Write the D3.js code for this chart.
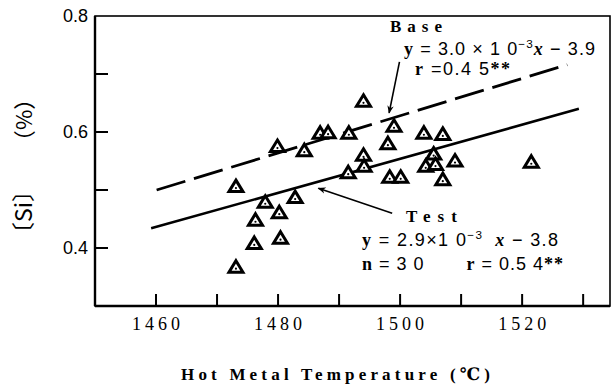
<!DOCTYPE html>
<html>
<head>
<meta charset="utf-8">
<script src="https://cdn.jsdelivr.net/npm/d3@7"></script>
<style>
  body { margin: 0; background: #fff; }
  svg { display: block; }
  text { white-space: pre; }
  .serif { font-family: "Liberation Serif", "DejaVu Serif", serif; }
  .sans { font-family: "Liberation Sans", Arial, sans-serif; }
  .cjk { font-family: "Noto Sans CJK JP", "Noto Sans CJK SC", sans-serif; }
</style>
</head>
<body>
<div id="chart"></div>
<script>
// measured points: hot metal temperature (C) vs [Si] (%)
const temps = [1473.1, 1473.1, 1477.9, 1480.2, 1476.3, 1482.8, 1476.1, 1480.4,
               1479.9, 1484.3, 1486.9, 1488.2, 1491.6, 1491.5, 1494.0, 1499.0,
               1503.9, 1507.0, 1498.0, 1494.0, 1494.1, 1498.3, 1500.1, 1505.5,
               1504.2, 1505.8, 1509.0, 1507.0, 1521.5];
const silicon = [0.366, 0.505, 0.478, 0.460, 0.447, 0.486, 0.407, 0.416,
                 0.574, 0.567, 0.597, 0.598, 0.597, 0.529, 0.652, 0.609,
                 0.597, 0.595, 0.579, 0.559, 0.540, 0.521, 0.521, 0.561,
                 0.540, 0.543, 0.549, 0.517, 0.547];

// regression lines as drawn (end points)
const baseLine = [[1460.1, 0.500], [1527.4, 0.716]];
const testLine = [[1459.2, 0.434], [1529.3, 0.640]];

// arrows pointing at the lines (from, to)
const baseArrow = [[1499.9, 0.721], [1498.2, 0.633]];
const testArrow = [[1498.7, 0.460], [1486.6, 0.503]];

const xTicks = [1460, 1470, 1480, 1490, 1500, 1510, 1520, 1530];
const xLabels = [1460, 1480, 1500, 1520];
const yTicks = [0.4, 0.5, 0.6, 0.7];
const yLabels = [0.4, 0.6, 0.8];

const W = 613, H = 385;
const svg = d3.select("#chart").append("svg")
    .attr("width", W).attr("height", H);

const x = d3.scaleLinear().domain([1450, 1534.4]).range([95, 610]);
const y = d3.scaleLinear().domain([0.3, 0.8]).range([306, 16]);

svg.append("defs").append("marker")
    .attr("id", "ah")
    .attr("viewBox", "0 0 10 10")
    .attr("refX", 9).attr("refY", 5)
    .attr("markerWidth", 8).attr("markerHeight", 8)
    .attr("markerUnits", "userSpaceOnUse")
    .attr("orient", "auto")
  .append("path")
    .attr("d", "M0,1 L10,5 L0,9 L3,5 Z")
    .attr("fill", "#000");

// frame
svg.append("rect")
    .attr("x", x.range()[0]).attr("y", y.range()[1])
    .attr("width", x.range()[1] - x.range()[0])
    .attr("height", y.range()[0] - y.range()[1])
    .attr("fill", "none").attr("stroke", "#000").attr("stroke-width", 1.6);
// heavier left & bottom
svg.append("line")
    .attr("x1", x.range()[0]).attr("x2", x.range()[0])
    .attr("y1", y.range()[1]).attr("y2", y.range()[0])
    .attr("stroke", "#000").attr("stroke-width", 2.4);
svg.append("line")
    .attr("x1", x.range()[0]).attr("x2", x.range()[1])
    .attr("y1", y.range()[0]).attr("y2", y.range()[0])
    .attr("stroke", "#000").attr("stroke-width", 2.4);

// inward ticks
svg.selectAll("line.xt").data(xTicks).enter().append("line")
    .attr("class", "xt")
    .attr("x1", d => x(d)).attr("x2", d => x(d))
    .attr("y1", y.range()[0]).attr("y2", y.range()[0] - 12)
    .attr("stroke", "#000").attr("stroke-width", 2);
svg.selectAll("line.yt").data(yTicks).enter().append("line")
    .attr("class", "yt")
    .attr("x1", x.range()[0]).attr("x2", x.range()[0] + 13)
    .attr("y1", d => y(d)).attr("y2", d => y(d))
    .attr("stroke", "#000").attr("stroke-width", 2);

svg.selectAll("text.xl").data(xLabels).enter().append("text")
    .attr("class", "xl serif")
    .attr("x", d => x(d) - 24).attr("y", 330)
    .attr("font-size", 18)
    .attr("textLength", 48).attr("lengthAdjust", "spacing")
    .text(d => d);
svg.selectAll("text.yl").data(yLabels).enter().append("text")
    .attr("class", "yl sans")
    .attr("x", 88).attr("y", d => y(d) + 6)
    .attr("text-anchor", "end")
    .attr("font-size", 18)
    .text(d => d3.format(".1f")(d));

// regression lines
const line = d3.line().x(d => x(d[0])).y(d => y(d[1]));
svg.append("path").attr("d", line(baseLine))
    .attr("fill", "none").attr("stroke", "#000")
    .attr("stroke-width", 2.8).attr("stroke-dasharray", "30,9");
svg.append("path").attr("d", line(testLine))
    .attr("fill", "none").attr("stroke", "#000")
    .attr("stroke-width", 2.6);

// arrows
[baseArrow, testArrow].forEach(a => {
    svg.append("path").attr("d", line(a))
        .attr("fill", "none").attr("stroke", "#000")
        .attr("stroke-width", 1.6)
        .attr("marker-end", "url(#ah)");
});

// triangle markers
const pts = temps.map((t, i) => [t, silicon[i]]);
const g = svg.selectAll("g.pt").data(pts).enter().append("g")
    .attr("class", "pt")
    .attr("transform", d => `translate(${x(d[0])},${y(d[1])})`);
g.append("path")
    .attr("d", "M0,-7 L7,4.5 L-7,4.5 Z")
    .attr("fill", "#fff").attr("stroke", "#000")
    .attr("stroke-width", 3).attr("stroke-linejoin", "miter");
g.append("circle").attr("cx", 0).attr("cy", 1).attr("r", 1.1).attr("fill", "#000");

// annotation text helper, stretched to the measured width
function richText(px, py, parts, size, width) {
    const t = svg.append("text").attr("x", px).attr("y", py).attr("font-size", size);
    parts.forEach(p => {
        const s = t.append("tspan").attr("class", p.c || "sans").text(p.t);
        if (p.b) s.attr("font-weight", "bold");
        if (p.i) s.attr("font-style", "italic");
        if (p.sup) s.attr("dy", -7).attr("font-size", size * 0.65);
        if (p.down) s.attr("dy", 7);
    });
    if (width) t.attr("textLength", width).attr("lengthAdjust", "spacing");
    return t;
}

richText(390, 32, [{t: "Base", c: "serif", b: true}], 17, 52);
richText(404, 55, [
    {t: "y", c: "serif", b: true}, {t: " = 3.0 × 1 0"},
    {t: "−3", sup: true}, {t: "x", c: "serif", b: true, i: true, down: true}, {t: " − 3.9"}], 18, 191);
richText(415, 75, [
    {t: "r", c: "serif", b: true}, {t: " =0.4 5"}, {t: "**", c: "serif", b: true}], 18, 95);

richText(406, 222, [{t: "Test", c: "serif", b: true}], 17, 51);
richText(362, 246, [
    {t: "y", c: "serif", b: true}, {t: " = 2.9×1 0"},
    {t: "−3", sup: true}, {t: "  x", c: "serif", b: true, i: true, down: true}, {t: " − 3.8"}], 18, 196);
richText(362, 270, [
    {t: "n", c: "serif", b: true}, {t: " = 3 0       "},
    {t: "r", c: "serif", b: true}, {t: " = 0.5 4"}, {t: "**", c: "serif", b: true}], 18, 201);

// axis titles
svg.append("text").attr("class", "serif")
    .attr("x", 181).attr("y", 380)
    .attr("font-size", 17).attr("font-weight", "bold")
    .attr("textLength", 309).attr("lengthAdjust", "spacing")
    .text("Hot Metal Temperature (℃)");
svg.append("text").attr("class", "cjk")
    .attr("transform", "translate(32,212) rotate(-90)")
    .attr("text-anchor", "middle").attr("font-size", 23)
    .text("〔Si〕");
svg.append("text").attr("class", "cjk")
    .attr("transform", "translate(32,120) rotate(-90)")
    .attr("text-anchor", "middle").attr("font-size", 22)
    .text("（%）");
</script>
</body>
</html>
